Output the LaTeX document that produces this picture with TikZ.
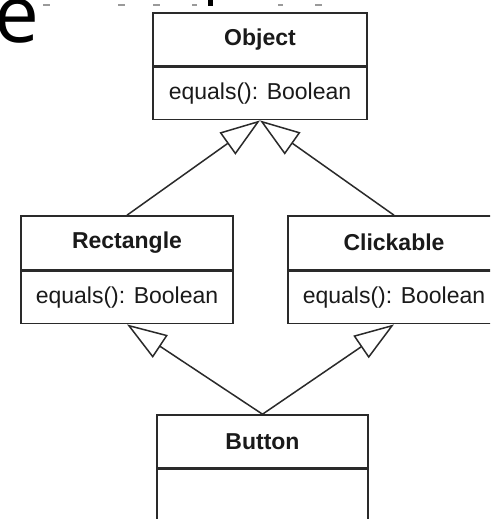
\documentclass[tikz,border=0pt]{standalone}
\usepackage{fontspec}
\setmainfont{Liberation Sans}
\newfontfamily\titlefont{Open Sans}
\usetikzlibrary{arrows.meta}
\definecolor{linec}{HTML}{2A2A2A}
\definecolor{textc}{HTML}{1A1A1A}
\definecolor{frag}{HTML}{9A9A9A}
\tikzset{
  x=1pt, y=-1pt,
  hdr/.style={draw=linec, line width=1.6pt, fill=white, inner sep=0pt,
    text=textc, font=\fontsize{23}{26}\selectfont\bfseries},
  bdy/.style={draw=linec, line width=1.6pt, fill=white, inner sep=0pt,
    text=textc, font=\fontsize{23}{26}\selectfont},
  inherit/.style={draw=linec, line width=1.5pt,
    -{Triangle[open, length=40pt, width=27pt, fill=white]}},
  fragline/.style={fill=frag, draw=none}
}
\begin{document}
\begin{tikzpicture}
\clip (0,0) rectangle (490,519);
\fill[white] (0,0) rectangle (490,519);
% cropped title fragments
\node[anchor=base west, inner sep=0pt, font=\fontsize{80}{90}\selectfont\titlefont] (ttl) at (-6,43) {e};
\fill[fragline] (43,4.5) rectangle (50,6.5);
\fill[fragline] (118,4.5) rectangle (125,6.5);
\fill[fragline] (153,4.5) rectangle (160,6.5);
\fill[fragline] (192,4.5) rectangle (197,6.5);
\fill[fragline] (278,4.5) rectangle (283,6.5);
\fill[fragline] (315,4.5) rectangle (322,6.5);
\fill[black] (208,0) rectangle (213,6.5);
% Object
\node[hdr, minimum width=214pt, minimum height=52.5pt] (objh) at (260,39.25) {Object};
\node[bdy, minimum width=214pt, minimum height=52.5pt, anchor=north] (objb) at (objh.south) {equals(): Boolean};
% Rectangle
\node[hdr, minimum width=212pt, minimum height=53.5pt] (recth) at (127,242.75) {Rectangle};
\node[bdy, minimum width=212pt, minimum height=52.5pt, anchor=north] (rectb) at (recth.south) {equals(): Boolean};
% Clickable
\node[hdr, minimum width=212pt, minimum height=53.5pt] (clkh) at (394,242.75) {Clickable};
\node[bdy, minimum width=212pt, minimum height=52.5pt, anchor=north] (clkb) at (clkh.south) {equals(): Boolean};
% Button
\node[hdr, minimum width=211pt, minimum height=53pt] (btnh) at (262.5,441.5) {Button};
\node[bdy, minimum width=211pt, minimum height=53pt, anchor=north] (btnb) at (btnh.south) {};
% generalizations
\draw[inherit] (recth.north) -- (objb.south);
\draw[inherit] (clkh.north) -- (objb.south);
\draw[inherit] (btnh.north) -- (rectb.south);
\draw[inherit] (btnh.north) -- (clkb.south);
\end{tikzpicture}
\end{document}
